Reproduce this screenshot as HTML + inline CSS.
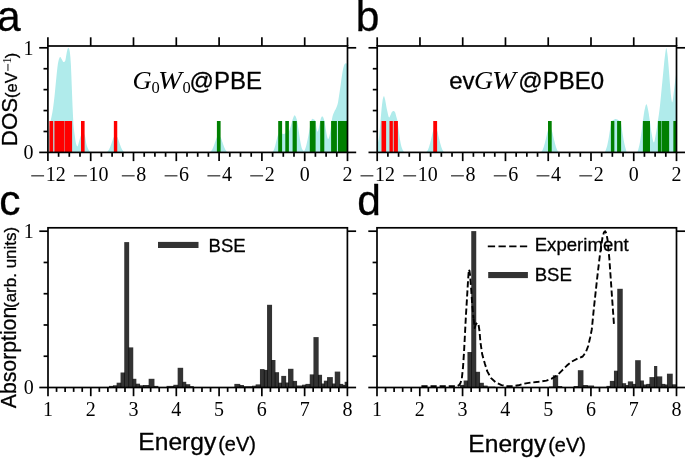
<!DOCTYPE html>
<html lang="en">
<head>
<meta charset="utf-8">
<title>DOS and absorption spectra</title>
<style>
html,body{margin:0;padding:0;background:#fff;}
body{width:685px;height:458px;overflow:hidden;font-family:"Liberation Sans",sans-serif;}
svg{display:block;will-change:transform;opacity:0.999;}
.sn{stroke:#000;stroke-width:0.3px;stroke-linejoin:round;}
</style>
</head>
<body>
<svg width="685" height="458" viewBox="0 0 685 458">
<rect width="685" height="458" fill="#fff"/>
<clipPath id="clip47"><rect x="47.9" y="46" width="299.6" height="106.4"/></clipPath>
<g clip-path="url(#clip47)">
<polygon points="47.9,152.4 47.9,137 48.4,133.72 48.9,130.58 49.4,127.58 49.9,124.72 50.4,122.02 50.9,119.58 51.4,117.18 51.9,114.77 52.4,112.16 52.9,109.12 53.4,105.56 53.9,101.57 54.4,97.28 54.9,92.55 55.4,87.23 55.9,81.88 56.4,76.97 56.9,72.01 57.4,67.38 57.9,63.75 58.4,61.29 58.9,59.35 59.4,58 59.9,57.04 60.4,56.89 60.9,57.65 61.4,58.64 61.9,59.51 62.4,60.51 62.9,61.41 63.4,61.94 63.9,61.97 64.4,61.83 64.9,61.56 65.4,60.37 65.9,57.46 66.4,54.5 66.9,51.8 67.4,49.44 67.9,48.36 68.4,47.82 68.9,48.26 69.4,49.74 69.9,52.41 70.4,57.29 70.9,64.75 71.4,76.46 71.9,89.81 72.4,102.77 72.9,114 73.4,123.72 73.9,128.99 74.4,132.91 74.9,136.55 75.4,140.28 75.9,143.25 76.4,144.86 76.9,146.02 77.4,146.5 77.9,145.77 78.4,144.04 78.9,141.96 79.4,140.18 79.9,138.49 80.4,136.83 80.9,135.5 81.4,134.55 81.9,133.69 82.4,133.05 82.9,132.8 83.4,133.02 83.9,133.62 84.4,134.48 84.9,135.56 85.4,137.95 85.9,141.19 86.4,144 86.9,145.76 87.4,147.25 87.9,148.51 88.4,149.53 88.9,150.35 89.4,151.06 89.9,151.57 90.4,151.84 90.9,151.99 91,152 91,152.4" fill="#b0ebeb"/>
<polygon points="106.25,152.4 106.72,152.16 107.18,151.82 107.64,151.39 108.11,150.87 108.57,150.25 109.04,149.46 109.5,148.48 109.97,147.38 110.44,146.26 110.9,145.02 111.36,143.69 111.83,142.35 112.29,141.02 112.76,139.56 113.22,138.24 113.69,137.36 114.16,136.77 114.62,136.28 115.08,135.93 115.55,135.8 116.01,135.93 116.48,136.28 116.94,136.77 117.41,137.36 117.88,138.24 118.34,139.56 118.8,141.02 119.27,142.35 119.73,143.69 120.2,145.02 120.66,146.26 121.13,147.38 121.59,148.48 122.06,149.46 122.52,150.25 122.99,150.87 123.45,151.39 123.92,151.82 124.38,152.16 124.85,152.4" fill="#b0ebeb"/>
<polygon points="209.45,152.4 209.91,152.16 210.38,151.82 210.84,151.39 211.31,150.87 211.78,150.25 212.24,149.46 212.7,148.48 213.17,147.38 213.63,146.26 214.1,145.02 214.56,143.69 215.03,142.35 215.5,141.02 215.96,139.56 216.43,138.24 216.89,137.36 217.35,136.77 217.82,136.28 218.28,135.93 218.75,135.8 219.22,135.93 219.68,136.28 220.14,136.77 220.61,137.36 221.07,138.24 221.54,139.56 222,141.02 222.47,142.35 222.94,143.69 223.4,145.02 223.87,146.26 224.33,147.38 224.79,148.48 225.26,149.46 225.72,150.25 226.19,150.87 226.66,151.39 227.12,151.82 227.58,152.16 228.05,152.4" fill="#b0ebeb"/>
<polygon points="272.5,152.4 272.5,152 273,151.36 273.5,150.5 274,149.39 274.5,148.02 275,146.43 275.5,144.46 276,142.31 276.5,140.3 277,138.36 277.5,136.46 278,134.93 278.5,133.95 279,133.09 279.5,132.41 280,132.04 280.5,132.08 281,132.49 281.5,133.03 282,133.49 282.5,133.72 283,133.89 283.5,133.99 284,133.97 284.5,133.83 285,133.6 285.5,133.26 286,132.62 286.5,131.93 287,131.5 287.5,131.35 288,131.27 288.5,131.17 289,131 289.5,130.19 290,128.65 290.5,127 291,125.32 291.5,123.43 292,121.54 292.5,119.86 293,118.48 293.5,117.07 294,115.91 294.5,115.32 295,115.49 295.5,116.2 296,117.31 296.5,118.69 297,120.24 297.5,122.72 298,126.02 298.5,129.46 299,132.78 299.5,136.33 300,139.67 300.5,142.47 301,145.11 301.5,147.37 302,148.8 302.5,149.63 303,150.32 303.5,150.8 304,151 304.5,150.61 305,149.5 305.5,148.07 306,146.55 306.5,144.59 307,142.35 307.5,140.04 308,137.59 308.5,134.98 309,132.28 309.5,129.57 310,126.78 310.5,123.78 311,121.5 311.5,119.95 312,118.91 312.5,118.82 313,118.95 313.5,119.16 314,119.4 314.5,119.75 315,120.34 315.5,121.81 316,125.05 316.5,128.04 317,130.51 317.5,131.76 318,131.18 318.5,129.24 319,127 319.5,124.55 320,121.9 320.5,119.75 321,117.96 321.5,116.98 322,116.37 322.5,116.42 323,117.02 323.5,117.9 324,119.44 324.5,121.43 325,124.12 325.5,127.2 326,130.4 326.5,133.6 327,135.95 327.5,138.03 328,139.16 328.5,138.81 329,137.5 329.5,135.8 330,133.46 330.5,130.25 331,126.7 331.5,122.5 332,119.12 332.5,116.48 333,114.76 333.5,113.51 334,112.44 334.5,111.36 335,110.37 335.5,109.42 336,108.43 336.5,107.3 337,106.06 337.5,104.6 338,102.54 338.5,99.33 339,96.01 339.5,92.72 340,89.34 340.5,85.9 341,82.25 341.5,78.59 342,75.27 342.5,72.11 343,69.26 343.5,67.14 344,65.49 344.5,64.28 345,63.69 345.5,63.34 346,63.32 346.5,63.5 347,63.87 347.5,64.5 347.5,152.4" fill="#b0ebeb"/>
<rect x="49.4" y="121" width="3.8" height="31.4" fill="#ff0000"/>
<rect x="54.4" y="121" width="9.75" height="31.4" fill="#ff0000"/>
<rect x="64.45" y="121" width="7.65" height="31.4" fill="#ff0000"/>
<rect x="81" y="121" width="3.6" height="31.4" fill="#ff0000"/>
<rect x="113.85" y="121" width="3.4" height="31.4" fill="#ff0000"/>
<rect x="216.9" y="121" width="3.7" height="31.4" fill="#008000"/>
<rect x="278.2" y="121" width="3.9" height="31.4" fill="#008000"/>
<rect x="285.3" y="121" width="3.6" height="31.4" fill="#008000"/>
<rect x="292.6" y="121" width="4.2" height="31.4" fill="#008000"/>
<rect x="309.8" y="121" width="5.8" height="31.4" fill="#008000"/>
<rect x="320.2" y="121" width="4.1" height="31.4" fill="#008000"/>
<rect x="331.1" y="121" width="5.8" height="31.4" fill="#008000"/>
<rect x="338" y="121" width="9.5" height="31.4" fill="#008000"/>
</g>
<rect x="47.9" y="46" width="299.6" height="106.4" fill="none" stroke="#000" stroke-width="1.7"/>
<line x1="47.9" y1="152.4" x2="47.9" y2="161.1" stroke="#000" stroke-width="1.7" />
<line x1="47.9" y1="46" x2="47.9" y2="37.3" stroke="#000" stroke-width="1.7" />
<rect x="31.22" y="175.35" width="12.85" height="1.0" fill="#000"/>
<text x="45.68" y="180.7" font-family='"Liberation Serif", serif' font-size="20" fill="#000">12</text>
<line x1="58.6" y1="152.4" x2="58.6" y2="156.8" stroke="#000" stroke-width="1.7" />
<line x1="69.3" y1="152.4" x2="69.3" y2="156.8" stroke="#000" stroke-width="1.7" />
<line x1="80" y1="152.4" x2="80" y2="156.8" stroke="#000" stroke-width="1.7" />
<line x1="90.7" y1="152.4" x2="90.7" y2="161.1" stroke="#000" stroke-width="1.7" />
<line x1="90.7" y1="46" x2="90.7" y2="37.3" stroke="#000" stroke-width="1.7" />
<rect x="74.02" y="175.35" width="12.85" height="1.0" fill="#000"/>
<text x="88.48" y="180.7" font-family='"Liberation Serif", serif' font-size="20" fill="#000">10</text>
<line x1="101.4" y1="152.4" x2="101.4" y2="156.8" stroke="#000" stroke-width="1.7" />
<line x1="112.1" y1="152.4" x2="112.1" y2="156.8" stroke="#000" stroke-width="1.7" />
<line x1="122.8" y1="152.4" x2="122.8" y2="156.8" stroke="#000" stroke-width="1.7" />
<line x1="133.5" y1="152.4" x2="133.5" y2="161.1" stroke="#000" stroke-width="1.7" />
<line x1="133.5" y1="46" x2="133.5" y2="37.3" stroke="#000" stroke-width="1.7" />
<rect x="121.82" y="175.35" width="12.85" height="1.0" fill="#000"/>
<text x="136.28" y="180.7" font-family='"Liberation Serif", serif' font-size="20" fill="#000">8</text>
<line x1="144.2" y1="152.4" x2="144.2" y2="156.8" stroke="#000" stroke-width="1.7" />
<line x1="154.9" y1="152.4" x2="154.9" y2="156.8" stroke="#000" stroke-width="1.7" />
<line x1="165.6" y1="152.4" x2="165.6" y2="156.8" stroke="#000" stroke-width="1.7" />
<line x1="176.3" y1="152.4" x2="176.3" y2="161.1" stroke="#000" stroke-width="1.7" />
<line x1="176.3" y1="46" x2="176.3" y2="37.3" stroke="#000" stroke-width="1.7" />
<rect x="164.62" y="175.35" width="12.85" height="1.0" fill="#000"/>
<text x="179.08" y="180.7" font-family='"Liberation Serif", serif' font-size="20" fill="#000">6</text>
<line x1="187" y1="152.4" x2="187" y2="156.8" stroke="#000" stroke-width="1.7" />
<line x1="197.7" y1="152.4" x2="197.7" y2="156.8" stroke="#000" stroke-width="1.7" />
<line x1="208.4" y1="152.4" x2="208.4" y2="156.8" stroke="#000" stroke-width="1.7" />
<line x1="219.1" y1="152.4" x2="219.1" y2="161.1" stroke="#000" stroke-width="1.7" />
<line x1="219.1" y1="46" x2="219.1" y2="37.3" stroke="#000" stroke-width="1.7" />
<rect x="207.42" y="175.35" width="12.85" height="1.0" fill="#000"/>
<text x="221.88" y="180.7" font-family='"Liberation Serif", serif' font-size="20" fill="#000">4</text>
<line x1="229.8" y1="152.4" x2="229.8" y2="156.8" stroke="#000" stroke-width="1.7" />
<line x1="240.5" y1="152.4" x2="240.5" y2="156.8" stroke="#000" stroke-width="1.7" />
<line x1="251.2" y1="152.4" x2="251.2" y2="156.8" stroke="#000" stroke-width="1.7" />
<line x1="261.9" y1="152.4" x2="261.9" y2="161.1" stroke="#000" stroke-width="1.7" />
<line x1="261.9" y1="46" x2="261.9" y2="37.3" stroke="#000" stroke-width="1.7" />
<rect x="250.22" y="175.35" width="12.85" height="1.0" fill="#000"/>
<text x="264.68" y="180.7" font-family='"Liberation Serif", serif' font-size="20" fill="#000">2</text>
<line x1="272.6" y1="152.4" x2="272.6" y2="156.8" stroke="#000" stroke-width="1.7" />
<line x1="283.3" y1="152.4" x2="283.3" y2="156.8" stroke="#000" stroke-width="1.7" />
<line x1="294" y1="152.4" x2="294" y2="156.8" stroke="#000" stroke-width="1.7" />
<line x1="304.7" y1="152.4" x2="304.7" y2="161.1" stroke="#000" stroke-width="1.7" />
<line x1="304.7" y1="46" x2="304.7" y2="37.3" stroke="#000" stroke-width="1.7" />
<text x="299.7" y="180.7" font-family='"Liberation Serif", serif' font-size="20" fill="#000">0</text>
<line x1="315.4" y1="152.4" x2="315.4" y2="156.8" stroke="#000" stroke-width="1.7" />
<line x1="326.1" y1="152.4" x2="326.1" y2="156.8" stroke="#000" stroke-width="1.7" />
<line x1="336.8" y1="152.4" x2="336.8" y2="156.8" stroke="#000" stroke-width="1.7" />
<line x1="347.5" y1="152.4" x2="347.5" y2="161.1" stroke="#000" stroke-width="1.7" />
<line x1="347.5" y1="46" x2="347.5" y2="37.3" stroke="#000" stroke-width="1.7" />
<text x="342.5" y="180.7" font-family='"Liberation Serif", serif' font-size="20" fill="#000">2</text>
<line x1="47.9" y1="152.4" x2="39.2" y2="152.4" stroke="#000" stroke-width="1.7" />
<line x1="347.5" y1="152.4" x2="356.2" y2="152.4" stroke="#000" stroke-width="1.7" />
<text x="33.6" y="159.1" text-anchor="end" font-family='"Liberation Serif", serif' font-size="20" fill="#000">0</text>
<line x1="47.9" y1="131.48" x2="43.5" y2="131.48" stroke="#000" stroke-width="1.7" />
<line x1="47.9" y1="110.56" x2="43.5" y2="110.56" stroke="#000" stroke-width="1.7" />
<line x1="47.9" y1="89.64" x2="43.5" y2="89.64" stroke="#000" stroke-width="1.7" />
<line x1="47.9" y1="68.72" x2="43.5" y2="68.72" stroke="#000" stroke-width="1.7" />
<line x1="47.9" y1="47.8" x2="39.2" y2="47.8" stroke="#000" stroke-width="1.7" />
<line x1="347.5" y1="47.8" x2="356.2" y2="47.8" stroke="#000" stroke-width="1.7" />
<text x="33.6" y="54.5" text-anchor="end" font-family='"Liberation Serif", serif' font-size="20" fill="#000">1</text>
<clipPath id="clip377"><rect x="377.2" y="46" width="299.3" height="106.4"/></clipPath>
<g clip-path="url(#clip377)">
<polygon points="377.2,152.4 377.2,144 377.7,143.33 378.2,141.58 378.7,139.13 379.2,136.11 379.7,130.83 380.2,124.46 380.7,118.67 381.2,112.93 381.7,107.62 382.2,103.23 382.7,99.56 383.2,97.48 383.7,96.15 384.2,96.34 384.7,97.88 385.2,99.92 385.7,102.86 386.2,105.8 386.7,108.38 387.2,110.84 387.7,113 388.2,115.15 388.7,117.01 389.2,117.58 389.7,116.94 390.2,115.84 390.7,114.78 391.2,113.52 391.7,112.36 392.2,111.69 392.7,111.21 393.2,110.93 393.7,110.95 394.2,111.23 394.7,111.68 395.2,112.48 395.7,114.22 396.2,116.23 396.7,117.95 397.2,119.76 397.7,122.42 398.2,126.41 398.7,130.3 399.2,134.09 399.7,137.64 400.2,140.68 400.7,143.46 401.2,145.73 401.7,147.42 402.2,148.83 402.7,149.92 403.2,150.76 403.7,151.45 404.2,151.9 404.2,152.4" fill="#b0ebeb"/>
<polygon points="425.87,152.4 426.34,152.04 426.8,151.55 427.26,150.92 427.73,150.16 428.19,149.25 428.66,148.09 429.12,146.66 429.59,145.06 430.06,143.41 430.52,141.6 430.99,139.65 431.45,137.69 431.92,135.74 432.38,133.61 432.85,131.67 433.31,130.38 433.78,129.52 434.24,128.8 434.71,128.29 435.17,128.1 435.63,128.29 436.1,128.8 436.56,129.52 437.03,130.38 437.5,131.67 437.96,133.61 438.43,135.74 438.89,137.69 439.36,139.65 439.82,141.6 440.29,143.41 440.75,145.06 441.22,146.66 441.68,148.09 442.14,149.25 442.61,150.16 443.07,150.92 443.54,151.55 444,152.04 444.47,152.4" fill="#b0ebeb"/>
<polygon points="540.55,152.4 541.01,152.04 541.48,151.55 541.95,150.92 542.41,150.16 542.88,149.25 543.34,148.09 543.81,146.66 544.27,145.06 544.74,143.41 545.2,141.6 545.66,139.65 546.13,137.69 546.6,135.74 547.06,133.61 547.52,131.67 547.99,130.38 548.46,129.52 548.92,128.8 549.38,128.29 549.85,128.1 550.32,128.29 550.78,128.8 551.25,129.52 551.71,130.38 552.18,131.67 552.64,133.61 553.11,135.74 553.57,137.69 554.03,139.65 554.5,141.6 554.97,143.41 555.43,145.06 555.89,146.66 556.36,148.09 556.83,149.25 557.29,150.16 557.75,150.92 558.22,151.55 558.69,152.04 559.15,152.4" fill="#b0ebeb"/>
<polygon points="604.8,152.4 604.8,152 605.3,151.15 605.8,150.01 606.3,148.62 606.8,147.07 607.3,145.15 607.8,142.85 608.3,140.32 608.8,137.53 609.3,134.35 609.8,131.1 610.3,127.57 610.8,124.43 611.3,122.59 611.8,121.31 612.3,120.68 612.8,120.29 613.3,120 613.8,119.71 614.3,119.44 614.8,119.22 615.3,119.11 615.8,119.12 616.3,119.22 616.8,119.37 617.3,119.58 617.8,119.81 618.3,120.05 618.8,120.36 619.3,120.77 619.8,121.3 620.3,122.04 620.8,123.13 621.3,124.86 621.8,128.23 622.3,131.74 622.8,135 623.3,138.12 623.8,140.82 624.3,143.2 624.8,145.38 625.3,147.4 625.8,149.29 626.3,151.03 626.6,152 626.6,152.4" fill="#b0ebeb"/>
<polygon points="637.3,152.4 637.3,152 637.8,150.9 638.3,149.41 638.8,147.61 639.3,145.59 639.8,143.09 640.3,140.06 640.8,136.73 641.3,133.31 641.8,129.52 642.3,125.49 642.8,121.62 643.3,117.99 643.8,114.42 644.3,111.37 644.8,109.06 645.3,106.87 645.8,105.1 646.3,104.16 646.8,104.5 647.3,106.13 647.8,108.46 648.3,110.88 648.8,113.8 649.3,117.24 649.8,120.82 650.3,124.32 650.8,128.08 651.3,131.65 651.8,134.51 652.3,137.18 652.8,139.69 653.3,141.63 653.8,142.57 654.3,141.94 654.8,139.76 655.3,136.93 655.8,134.26 656.3,131.39 656.8,128.24 657.3,124.93 657.8,121.57 658.3,118.25 658.8,114.88 659.3,111.27 659.8,107.2 660.3,102.48 660.8,97.38 661.3,92.21 661.8,87.12 662.3,81.92 662.8,76.74 663.3,71.66 663.8,66.43 664.3,61.36 664.8,56.96 665.3,53.04 665.8,49.41 666.3,47.8 666.8,49.42 667.3,52.98 667.8,57.11 668.3,62.73 668.8,68.97 669.3,75.43 669.8,82.28 670.3,88.32 670.8,93.9 671.3,98.2 671.8,101.41 672.3,102.5 672.8,99.85 673.3,96.05 673.8,92.02 674.3,87.64 674.8,83.65 675.3,79.83 675.8,76.2 676.3,72.8 676.8,69.61 676.9,69 676.9,152.4" fill="#b0ebeb"/>
<rect x="381.5" y="121" width="4.6" height="31.4" fill="#ff0000"/>
<rect x="389.5" y="121" width="3.35" height="31.4" fill="#ff0000"/>
<rect x="393.7" y="121" width="4.2" height="31.4" fill="#ff0000"/>
<rect x="433.25" y="121" width="3.85" height="31.4" fill="#ff0000"/>
<rect x="548" y="121" width="3.7" height="31.4" fill="#008000"/>
<rect x="610.9" y="121" width="3.45" height="31.4" fill="#008000"/>
<rect x="617.1" y="121" width="4" height="31.4" fill="#008000"/>
<rect x="642.9" y="121" width="7.1" height="31.4" fill="#008000"/>
<rect x="657.9" y="121" width="3.45" height="31.4" fill="#008000"/>
<rect x="661.75" y="121" width="7.4" height="31.4" fill="#008000"/>
<rect x="673.35" y="121" width="3.55" height="31.4" fill="#008000"/>
</g>
<rect x="377.2" y="46" width="299.3" height="106.4" fill="none" stroke="#000" stroke-width="1.7"/>
<line x1="377.2" y1="152.4" x2="377.2" y2="161.1" stroke="#000" stroke-width="1.7" />
<line x1="377.2" y1="46" x2="377.2" y2="37.3" stroke="#000" stroke-width="1.7" />
<rect x="360.52" y="175.35" width="12.85" height="1.0" fill="#000"/>
<text x="374.98" y="180.7" font-family='"Liberation Serif", serif' font-size="20" fill="#000">12</text>
<line x1="387.89" y1="152.4" x2="387.89" y2="156.8" stroke="#000" stroke-width="1.7" />
<line x1="398.58" y1="152.4" x2="398.58" y2="156.8" stroke="#000" stroke-width="1.7" />
<line x1="409.27" y1="152.4" x2="409.27" y2="156.8" stroke="#000" stroke-width="1.7" />
<line x1="419.96" y1="152.4" x2="419.96" y2="161.1" stroke="#000" stroke-width="1.7" />
<line x1="419.96" y1="46" x2="419.96" y2="37.3" stroke="#000" stroke-width="1.7" />
<rect x="403.28" y="175.35" width="12.85" height="1.0" fill="#000"/>
<text x="417.74" y="180.7" font-family='"Liberation Serif", serif' font-size="20" fill="#000">10</text>
<line x1="430.65" y1="152.4" x2="430.65" y2="156.8" stroke="#000" stroke-width="1.7" />
<line x1="441.34" y1="152.4" x2="441.34" y2="156.8" stroke="#000" stroke-width="1.7" />
<line x1="452.02" y1="152.4" x2="452.02" y2="156.8" stroke="#000" stroke-width="1.7" />
<line x1="462.71" y1="152.4" x2="462.71" y2="161.1" stroke="#000" stroke-width="1.7" />
<line x1="462.71" y1="46" x2="462.71" y2="37.3" stroke="#000" stroke-width="1.7" />
<rect x="451.03" y="175.35" width="12.85" height="1.0" fill="#000"/>
<text x="465.49" y="180.7" font-family='"Liberation Serif", serif' font-size="20" fill="#000">8</text>
<line x1="473.4" y1="152.4" x2="473.4" y2="156.8" stroke="#000" stroke-width="1.7" />
<line x1="484.09" y1="152.4" x2="484.09" y2="156.8" stroke="#000" stroke-width="1.7" />
<line x1="494.78" y1="152.4" x2="494.78" y2="156.8" stroke="#000" stroke-width="1.7" />
<line x1="505.47" y1="152.4" x2="505.47" y2="161.1" stroke="#000" stroke-width="1.7" />
<line x1="505.47" y1="46" x2="505.47" y2="37.3" stroke="#000" stroke-width="1.7" />
<rect x="493.79" y="175.35" width="12.85" height="1.0" fill="#000"/>
<text x="508.25" y="180.7" font-family='"Liberation Serif", serif' font-size="20" fill="#000">6</text>
<line x1="516.16" y1="152.4" x2="516.16" y2="156.8" stroke="#000" stroke-width="1.7" />
<line x1="526.85" y1="152.4" x2="526.85" y2="156.8" stroke="#000" stroke-width="1.7" />
<line x1="537.54" y1="152.4" x2="537.54" y2="156.8" stroke="#000" stroke-width="1.7" />
<line x1="548.23" y1="152.4" x2="548.23" y2="161.1" stroke="#000" stroke-width="1.7" />
<line x1="548.23" y1="46" x2="548.23" y2="37.3" stroke="#000" stroke-width="1.7" />
<rect x="536.55" y="175.35" width="12.85" height="1.0" fill="#000"/>
<text x="551.01" y="180.7" font-family='"Liberation Serif", serif' font-size="20" fill="#000">4</text>
<line x1="558.92" y1="152.4" x2="558.92" y2="156.8" stroke="#000" stroke-width="1.7" />
<line x1="569.61" y1="152.4" x2="569.61" y2="156.8" stroke="#000" stroke-width="1.7" />
<line x1="580.3" y1="152.4" x2="580.3" y2="156.8" stroke="#000" stroke-width="1.7" />
<line x1="590.99" y1="152.4" x2="590.99" y2="161.1" stroke="#000" stroke-width="1.7" />
<line x1="590.99" y1="46" x2="590.99" y2="37.3" stroke="#000" stroke-width="1.7" />
<rect x="579.31" y="175.35" width="12.85" height="1.0" fill="#000"/>
<text x="593.77" y="180.7" font-family='"Liberation Serif", serif' font-size="20" fill="#000">2</text>
<line x1="601.67" y1="152.4" x2="601.67" y2="156.8" stroke="#000" stroke-width="1.7" />
<line x1="612.36" y1="152.4" x2="612.36" y2="156.8" stroke="#000" stroke-width="1.7" />
<line x1="623.05" y1="152.4" x2="623.05" y2="156.8" stroke="#000" stroke-width="1.7" />
<line x1="633.74" y1="152.4" x2="633.74" y2="161.1" stroke="#000" stroke-width="1.7" />
<line x1="633.74" y1="46" x2="633.74" y2="37.3" stroke="#000" stroke-width="1.7" />
<text x="628.74" y="180.7" font-family='"Liberation Serif", serif' font-size="20" fill="#000">0</text>
<line x1="644.43" y1="152.4" x2="644.43" y2="156.8" stroke="#000" stroke-width="1.7" />
<line x1="655.12" y1="152.4" x2="655.12" y2="156.8" stroke="#000" stroke-width="1.7" />
<line x1="665.81" y1="152.4" x2="665.81" y2="156.8" stroke="#000" stroke-width="1.7" />
<line x1="676.5" y1="152.4" x2="676.5" y2="161.1" stroke="#000" stroke-width="1.7" />
<line x1="676.5" y1="46" x2="676.5" y2="37.3" stroke="#000" stroke-width="1.7" />
<text x="671.5" y="180.7" font-family='"Liberation Serif", serif' font-size="20" fill="#000">2</text>
<line x1="377.2" y1="152.4" x2="368.5" y2="152.4" stroke="#000" stroke-width="1.7" />
<line x1="676.5" y1="152.4" x2="685.2" y2="152.4" stroke="#000" stroke-width="1.7" />
<line x1="377.2" y1="131.48" x2="372.8" y2="131.48" stroke="#000" stroke-width="1.7" />
<line x1="377.2" y1="110.56" x2="372.8" y2="110.56" stroke="#000" stroke-width="1.7" />
<line x1="377.2" y1="89.64" x2="372.8" y2="89.64" stroke="#000" stroke-width="1.7" />
<line x1="377.2" y1="68.72" x2="372.8" y2="68.72" stroke="#000" stroke-width="1.7" />
<line x1="377.2" y1="47.8" x2="368.5" y2="47.8" stroke="#000" stroke-width="1.7" />
<line x1="676.5" y1="47.8" x2="685.2" y2="47.8" stroke="#000" stroke-width="1.7" />
<clipPath id="clip48_227"><rect x="48" y="227.8" width="299.4" height="159.7"/></clipPath>
<g clip-path="url(#clip48_227)">
<rect x="108.95" y="385.9" width="4.7" height="1.6" fill="#000" fill-opacity="0.8"/>
<rect x="112.95" y="385.3" width="4.4" height="2.2" fill="#000" fill-opacity="0.8"/>
<rect x="116.65" y="382.7" width="4.6" height="4.8" fill="#000" fill-opacity="0.8"/>
<rect x="120.55" y="372.5" width="4.4" height="15" fill="#000" fill-opacity="0.8"/>
<rect x="124.25" y="242.1" width="4.9" height="145.4" fill="#000" fill-opacity="0.8"/>
<rect x="128.45" y="347.4" width="4.8" height="40.1" fill="#000" fill-opacity="0.8"/>
<rect x="132.55" y="378.8" width="3.8" height="8.7" fill="#000" fill-opacity="0.8"/>
<rect x="135.65" y="383.7" width="4.4" height="3.8" fill="#000" fill-opacity="0.8"/>
<rect x="139.35" y="385.3" width="4.3" height="2.2" fill="#000" fill-opacity="0.8"/>
<rect x="142.95" y="385" width="6.4" height="2.5" fill="#000" fill-opacity="0.8"/>
<rect x="148.65" y="378.8" width="5.8" height="8.7" fill="#000" fill-opacity="0.8"/>
<rect x="153.75" y="385.9" width="4.6" height="1.6" fill="#000" fill-opacity="0.8"/>
<rect x="166.55" y="385.9" width="7.5" height="1.6" fill="#000" fill-opacity="0.8"/>
<rect x="173.35" y="384.8" width="5" height="2.7" fill="#000" fill-opacity="0.8"/>
<rect x="177.65" y="367.8" width="5.5" height="19.7" fill="#000" fill-opacity="0.8"/>
<rect x="182.45" y="381.8" width="3.8" height="5.7" fill="#000" fill-opacity="0.8"/>
<rect x="185.55" y="384.2" width="4.7" height="3.3" fill="#000" fill-opacity="0.8"/>
<rect x="189.55" y="386.1" width="4.3" height="1.4" fill="#000" fill-opacity="0.8"/>
<rect x="234.35" y="383.9" width="5.9" height="3.6" fill="#000" fill-opacity="0.8"/>
<rect x="239.55" y="385" width="4.4" height="2.5" fill="#000" fill-opacity="0.8"/>
<rect x="243.25" y="386.2" width="9.5" height="1.3" fill="#000" fill-opacity="0.8"/>
<rect x="252.05" y="385.7" width="4.3" height="1.8" fill="#000" fill-opacity="0.8"/>
<rect x="255.65" y="384.4" width="5" height="3.1" fill="#000" fill-opacity="0.8"/>
<rect x="259.95" y="369.1" width="4.6" height="18.4" fill="#000" fill-opacity="0.8"/>
<rect x="263.85" y="369.9" width="3.9" height="17.6" fill="#000" fill-opacity="0.8"/>
<rect x="267.05" y="304.8" width="5" height="82.7" fill="#000" fill-opacity="0.8"/>
<rect x="271.35" y="360" width="4.1" height="27.5" fill="#000" fill-opacity="0.8"/>
<rect x="274.75" y="372.2" width="4.3" height="15.3" fill="#000" fill-opacity="0.8"/>
<rect x="278.35" y="382.7" width="3.6" height="4.8" fill="#000" fill-opacity="0.8"/>
<rect x="281.25" y="375.9" width="4.9" height="11.6" fill="#000" fill-opacity="0.8"/>
<rect x="285.45" y="382.5" width="3.3" height="5" fill="#000" fill-opacity="0.8"/>
<rect x="288.05" y="368.8" width="5.4" height="18.7" fill="#000" fill-opacity="0.8"/>
<rect x="292.75" y="380.9" width="4.3" height="6.6" fill="#000" fill-opacity="0.8"/>
<rect x="296.35" y="385.5" width="6.4" height="2" fill="#000" fill-opacity="0.8"/>
<rect x="302.05" y="384.7" width="4.1" height="2.8" fill="#000" fill-opacity="0.8"/>
<rect x="305.45" y="383.9" width="5" height="3.6" fill="#000" fill-opacity="0.8"/>
<rect x="309.75" y="374.4" width="4.4" height="13.1" fill="#000" fill-opacity="0.8"/>
<rect x="313.45" y="337.1" width="5.2" height="50.4" fill="#000" fill-opacity="0.8"/>
<rect x="317.95" y="374.8" width="4.1" height="12.7" fill="#000" fill-opacity="0.8"/>
<rect x="321.35" y="383.5" width="3.2" height="4" fill="#000" fill-opacity="0.8"/>
<rect x="323.85" y="380.7" width="3.9" height="6.8" fill="#000" fill-opacity="0.8"/>
<rect x="327.05" y="377.1" width="5.8" height="10.4" fill="#000" fill-opacity="0.8"/>
<rect x="332.15" y="383.5" width="3.3" height="4" fill="#000" fill-opacity="0.8"/>
<rect x="334.75" y="371.6" width="5.5" height="15.9" fill="#000" fill-opacity="0.8"/>
<rect x="339.55" y="383.9" width="3.8" height="3.6" fill="#000" fill-opacity="0.8"/>
<rect x="342.65" y="385" width="2.7" height="2.5" fill="#000" fill-opacity="0.8"/>
<rect x="344.65" y="381.8" width="3.1" height="5.7" fill="#000" fill-opacity="0.8"/>
</g>
<rect x="48" y="227.8" width="299.4" height="159.7" fill="none" stroke="#000" stroke-width="1.7"/>
<line x1="48" y1="387.5" x2="48" y2="396.2" stroke="#000" stroke-width="1.7" />
<text x="43" y="416.3" font-family='"Liberation Serif", serif' font-size="20" fill="#000">1</text>
<line x1="56.55" y1="387.5" x2="56.55" y2="391.9" stroke="#000" stroke-width="1.7" />
<line x1="65.11" y1="387.5" x2="65.11" y2="391.9" stroke="#000" stroke-width="1.7" />
<line x1="73.66" y1="387.5" x2="73.66" y2="391.9" stroke="#000" stroke-width="1.7" />
<line x1="82.22" y1="387.5" x2="82.22" y2="391.9" stroke="#000" stroke-width="1.7" />
<line x1="90.77" y1="387.5" x2="90.77" y2="396.2" stroke="#000" stroke-width="1.7" />
<text x="85.77" y="416.3" font-family='"Liberation Serif", serif' font-size="20" fill="#000">2</text>
<line x1="99.33" y1="387.5" x2="99.33" y2="391.9" stroke="#000" stroke-width="1.7" />
<line x1="107.88" y1="387.5" x2="107.88" y2="391.9" stroke="#000" stroke-width="1.7" />
<line x1="116.43" y1="387.5" x2="116.43" y2="391.9" stroke="#000" stroke-width="1.7" />
<line x1="124.99" y1="387.5" x2="124.99" y2="391.9" stroke="#000" stroke-width="1.7" />
<line x1="133.54" y1="387.5" x2="133.54" y2="396.2" stroke="#000" stroke-width="1.7" />
<text x="128.54" y="416.3" font-family='"Liberation Serif", serif' font-size="20" fill="#000">3</text>
<line x1="142.1" y1="387.5" x2="142.1" y2="391.9" stroke="#000" stroke-width="1.7" />
<line x1="150.65" y1="387.5" x2="150.65" y2="391.9" stroke="#000" stroke-width="1.7" />
<line x1="159.21" y1="387.5" x2="159.21" y2="391.9" stroke="#000" stroke-width="1.7" />
<line x1="167.76" y1="387.5" x2="167.76" y2="391.9" stroke="#000" stroke-width="1.7" />
<line x1="176.31" y1="387.5" x2="176.31" y2="396.2" stroke="#000" stroke-width="1.7" />
<text x="171.31" y="416.3" font-family='"Liberation Serif", serif' font-size="20" fill="#000">4</text>
<line x1="184.87" y1="387.5" x2="184.87" y2="391.9" stroke="#000" stroke-width="1.7" />
<line x1="193.42" y1="387.5" x2="193.42" y2="391.9" stroke="#000" stroke-width="1.7" />
<line x1="201.98" y1="387.5" x2="201.98" y2="391.9" stroke="#000" stroke-width="1.7" />
<line x1="210.53" y1="387.5" x2="210.53" y2="391.9" stroke="#000" stroke-width="1.7" />
<line x1="219.09" y1="387.5" x2="219.09" y2="396.2" stroke="#000" stroke-width="1.7" />
<text x="214.09" y="416.3" font-family='"Liberation Serif", serif' font-size="20" fill="#000">5</text>
<line x1="227.64" y1="387.5" x2="227.64" y2="391.9" stroke="#000" stroke-width="1.7" />
<line x1="236.19" y1="387.5" x2="236.19" y2="391.9" stroke="#000" stroke-width="1.7" />
<line x1="244.75" y1="387.5" x2="244.75" y2="391.9" stroke="#000" stroke-width="1.7" />
<line x1="253.3" y1="387.5" x2="253.3" y2="391.9" stroke="#000" stroke-width="1.7" />
<line x1="261.86" y1="387.5" x2="261.86" y2="396.2" stroke="#000" stroke-width="1.7" />
<text x="256.86" y="416.3" font-family='"Liberation Serif", serif' font-size="20" fill="#000">6</text>
<line x1="270.41" y1="387.5" x2="270.41" y2="391.9" stroke="#000" stroke-width="1.7" />
<line x1="278.97" y1="387.5" x2="278.97" y2="391.9" stroke="#000" stroke-width="1.7" />
<line x1="287.52" y1="387.5" x2="287.52" y2="391.9" stroke="#000" stroke-width="1.7" />
<line x1="296.07" y1="387.5" x2="296.07" y2="391.9" stroke="#000" stroke-width="1.7" />
<line x1="304.63" y1="387.5" x2="304.63" y2="396.2" stroke="#000" stroke-width="1.7" />
<text x="299.63" y="416.3" font-family='"Liberation Serif", serif' font-size="20" fill="#000">7</text>
<line x1="313.18" y1="387.5" x2="313.18" y2="391.9" stroke="#000" stroke-width="1.7" />
<line x1="321.74" y1="387.5" x2="321.74" y2="391.9" stroke="#000" stroke-width="1.7" />
<line x1="330.29" y1="387.5" x2="330.29" y2="391.9" stroke="#000" stroke-width="1.7" />
<line x1="338.85" y1="387.5" x2="338.85" y2="391.9" stroke="#000" stroke-width="1.7" />
<line x1="347.4" y1="387.5" x2="347.4" y2="396.2" stroke="#000" stroke-width="1.7" />
<text x="342.4" y="416.3" font-family='"Liberation Serif", serif' font-size="20" fill="#000">8</text>
<line x1="48" y1="387.5" x2="39.3" y2="387.5" stroke="#000" stroke-width="1.7" />
<line x1="347.4" y1="387.5" x2="356.1" y2="387.5" stroke="#000" stroke-width="1.7" />
<text x="33.7" y="394.2" text-anchor="end" font-family='"Liberation Serif", serif' font-size="20" fill="#000">0</text>
<line x1="48" y1="356.24" x2="43.6" y2="356.24" stroke="#000" stroke-width="1.7" />
<line x1="48" y1="324.98" x2="43.6" y2="324.98" stroke="#000" stroke-width="1.7" />
<line x1="48" y1="293.72" x2="43.6" y2="293.72" stroke="#000" stroke-width="1.7" />
<line x1="48" y1="262.46" x2="43.6" y2="262.46" stroke="#000" stroke-width="1.7" />
<line x1="48" y1="231.2" x2="39.3" y2="231.2" stroke="#000" stroke-width="1.7" />
<line x1="347.4" y1="231.2" x2="356.1" y2="231.2" stroke="#000" stroke-width="1.7" />
<text x="33.7" y="237.9" text-anchor="end" font-family='"Liberation Serif", serif' font-size="20" fill="#000">1</text>
<clipPath id="clip377_227"><rect x="377" y="227.8" width="299.5" height="159.7"/></clipPath>
<g clip-path="url(#clip377_227)">
<rect x="459.85" y="384.9" width="4.5" height="2.6" fill="#000" fill-opacity="0.8"/>
<rect x="463.65" y="380.5" width="4.5" height="7" fill="#000" fill-opacity="0.8"/>
<rect x="467.45" y="352" width="4.5" height="35.5" fill="#000" fill-opacity="0.8"/>
<rect x="471.25" y="231.1" width="5" height="156.4" fill="#000" fill-opacity="0.8"/>
<rect x="475.55" y="371.8" width="4.5" height="15.7" fill="#000" fill-opacity="0.8"/>
<rect x="479.35" y="382.8" width="4.5" height="4.7" fill="#000" fill-opacity="0.8"/>
<rect x="483.15" y="385.6" width="4.5" height="1.9" fill="#000" fill-opacity="0.8"/>
<rect x="486.95" y="386.6" width="8.4" height="0.9" fill="#000" fill-opacity="0.8"/>
<rect x="494.65" y="387" width="55" height="0.5" fill="#000" fill-opacity="0.8"/>
<rect x="548.95" y="386.5" width="4.6" height="1" fill="#000" fill-opacity="0.8"/>
<rect x="552.85" y="375.3" width="5.3" height="12.2" fill="#000" fill-opacity="0.8"/>
<rect x="557.45" y="386" width="4.8" height="1.5" fill="#000" fill-opacity="0.8"/>
<rect x="561.55" y="387" width="12.8" height="0.5" fill="#000" fill-opacity="0.8"/>
<rect x="573.65" y="386" width="4.9" height="1.5" fill="#000" fill-opacity="0.8"/>
<rect x="577.85" y="370.2" width="5.6" height="17.3" fill="#000" fill-opacity="0.8"/>
<rect x="582.75" y="385" width="5" height="2.5" fill="#000" fill-opacity="0.8"/>
<rect x="587.05" y="385.5" width="7" height="2" fill="#000" fill-opacity="0.8"/>
<rect x="593.35" y="386.9" width="13.8" height="0.6" fill="#000" fill-opacity="0.8"/>
<rect x="606.45" y="385.9" width="4.1" height="1.6" fill="#000" fill-opacity="0.8"/>
<rect x="609.85" y="380.9" width="4.8" height="6.6" fill="#000" fill-opacity="0.8"/>
<rect x="613.95" y="370.7" width="4" height="16.8" fill="#000" fill-opacity="0.8"/>
<rect x="617.25" y="288.8" width="5.5" height="98.7" fill="#000" fill-opacity="0.8"/>
<rect x="622.05" y="383.2" width="4.1" height="4.3" fill="#000" fill-opacity="0.8"/>
<rect x="625.45" y="385" width="3.1" height="2.5" fill="#000" fill-opacity="0.8"/>
<rect x="627.85" y="381.4" width="5.3" height="6.1" fill="#000" fill-opacity="0.8"/>
<rect x="632.45" y="383.9" width="3.4" height="3.6" fill="#000" fill-opacity="0.8"/>
<rect x="635.15" y="360.2" width="5.6" height="27.3" fill="#000" fill-opacity="0.8"/>
<rect x="640.05" y="380.5" width="3.9" height="7" fill="#000" fill-opacity="0.8"/>
<rect x="643.25" y="384.5" width="3.8" height="3" fill="#000" fill-opacity="0.8"/>
<rect x="646.35" y="383.9" width="3.8" height="3.6" fill="#000" fill-opacity="0.8"/>
<rect x="649.45" y="377.1" width="5.3" height="10.4" fill="#000" fill-opacity="0.8"/>
<rect x="654.05" y="366" width="3.2" height="21.5" fill="#000" fill-opacity="0.8"/>
<rect x="656.55" y="376.4" width="5.7" height="11.1" fill="#000" fill-opacity="0.8"/>
<rect x="661.55" y="383.9" width="3.8" height="3.6" fill="#000" fill-opacity="0.8"/>
<rect x="664.65" y="384.5" width="3" height="3" fill="#000" fill-opacity="0.8"/>
<rect x="666.95" y="373.7" width="5.8" height="13.8" fill="#000" fill-opacity="0.8"/>
<rect x="672.05" y="384.3" width="4.7" height="3.2" fill="#000" fill-opacity="0.8"/>
</g>
<rect x="377" y="227.8" width="299.5" height="159.7" fill="none" stroke="#000" stroke-width="1.7"/>
<line x1="377" y1="387.5" x2="377" y2="396.2" stroke="#000" stroke-width="1.7" />
<text x="372" y="416.3" font-family='"Liberation Serif", serif' font-size="20" fill="#000">1</text>
<line x1="385.56" y1="387.5" x2="385.56" y2="391.9" stroke="#000" stroke-width="1.7" />
<line x1="394.11" y1="387.5" x2="394.11" y2="391.9" stroke="#000" stroke-width="1.7" />
<line x1="402.67" y1="387.5" x2="402.67" y2="391.9" stroke="#000" stroke-width="1.7" />
<line x1="411.23" y1="387.5" x2="411.23" y2="391.9" stroke="#000" stroke-width="1.7" />
<line x1="419.79" y1="387.5" x2="419.79" y2="396.2" stroke="#000" stroke-width="1.7" />
<text x="414.79" y="416.3" font-family='"Liberation Serif", serif' font-size="20" fill="#000">2</text>
<line x1="428.34" y1="387.5" x2="428.34" y2="391.9" stroke="#000" stroke-width="1.7" />
<line x1="436.9" y1="387.5" x2="436.9" y2="391.9" stroke="#000" stroke-width="1.7" />
<line x1="445.46" y1="387.5" x2="445.46" y2="391.9" stroke="#000" stroke-width="1.7" />
<line x1="454.01" y1="387.5" x2="454.01" y2="391.9" stroke="#000" stroke-width="1.7" />
<line x1="462.57" y1="387.5" x2="462.57" y2="396.2" stroke="#000" stroke-width="1.7" />
<text x="457.57" y="416.3" font-family='"Liberation Serif", serif' font-size="20" fill="#000">3</text>
<line x1="471.13" y1="387.5" x2="471.13" y2="391.9" stroke="#000" stroke-width="1.7" />
<line x1="479.69" y1="387.5" x2="479.69" y2="391.9" stroke="#000" stroke-width="1.7" />
<line x1="488.24" y1="387.5" x2="488.24" y2="391.9" stroke="#000" stroke-width="1.7" />
<line x1="496.8" y1="387.5" x2="496.8" y2="391.9" stroke="#000" stroke-width="1.7" />
<line x1="505.36" y1="387.5" x2="505.36" y2="396.2" stroke="#000" stroke-width="1.7" />
<text x="500.36" y="416.3" font-family='"Liberation Serif", serif' font-size="20" fill="#000">4</text>
<line x1="513.91" y1="387.5" x2="513.91" y2="391.9" stroke="#000" stroke-width="1.7" />
<line x1="522.47" y1="387.5" x2="522.47" y2="391.9" stroke="#000" stroke-width="1.7" />
<line x1="531.03" y1="387.5" x2="531.03" y2="391.9" stroke="#000" stroke-width="1.7" />
<line x1="539.59" y1="387.5" x2="539.59" y2="391.9" stroke="#000" stroke-width="1.7" />
<line x1="548.14" y1="387.5" x2="548.14" y2="396.2" stroke="#000" stroke-width="1.7" />
<text x="543.14" y="416.3" font-family='"Liberation Serif", serif' font-size="20" fill="#000">5</text>
<line x1="556.7" y1="387.5" x2="556.7" y2="391.9" stroke="#000" stroke-width="1.7" />
<line x1="565.26" y1="387.5" x2="565.26" y2="391.9" stroke="#000" stroke-width="1.7" />
<line x1="573.81" y1="387.5" x2="573.81" y2="391.9" stroke="#000" stroke-width="1.7" />
<line x1="582.37" y1="387.5" x2="582.37" y2="391.9" stroke="#000" stroke-width="1.7" />
<line x1="590.93" y1="387.5" x2="590.93" y2="396.2" stroke="#000" stroke-width="1.7" />
<text x="585.93" y="416.3" font-family='"Liberation Serif", serif' font-size="20" fill="#000">6</text>
<line x1="599.49" y1="387.5" x2="599.49" y2="391.9" stroke="#000" stroke-width="1.7" />
<line x1="608.04" y1="387.5" x2="608.04" y2="391.9" stroke="#000" stroke-width="1.7" />
<line x1="616.6" y1="387.5" x2="616.6" y2="391.9" stroke="#000" stroke-width="1.7" />
<line x1="625.16" y1="387.5" x2="625.16" y2="391.9" stroke="#000" stroke-width="1.7" />
<line x1="633.71" y1="387.5" x2="633.71" y2="396.2" stroke="#000" stroke-width="1.7" />
<text x="628.71" y="416.3" font-family='"Liberation Serif", serif' font-size="20" fill="#000">7</text>
<line x1="642.27" y1="387.5" x2="642.27" y2="391.9" stroke="#000" stroke-width="1.7" />
<line x1="650.83" y1="387.5" x2="650.83" y2="391.9" stroke="#000" stroke-width="1.7" />
<line x1="659.39" y1="387.5" x2="659.39" y2="391.9" stroke="#000" stroke-width="1.7" />
<line x1="667.94" y1="387.5" x2="667.94" y2="391.9" stroke="#000" stroke-width="1.7" />
<line x1="676.5" y1="387.5" x2="676.5" y2="396.2" stroke="#000" stroke-width="1.7" />
<text x="671.5" y="416.3" font-family='"Liberation Serif", serif' font-size="20" fill="#000">8</text>
<line x1="377" y1="387.5" x2="368.3" y2="387.5" stroke="#000" stroke-width="1.7" />
<line x1="676.5" y1="387.5" x2="685.2" y2="387.5" stroke="#000" stroke-width="1.7" />
<line x1="377" y1="356.24" x2="372.6" y2="356.24" stroke="#000" stroke-width="1.7" />
<line x1="377" y1="324.98" x2="372.6" y2="324.98" stroke="#000" stroke-width="1.7" />
<line x1="377" y1="293.72" x2="372.6" y2="293.72" stroke="#000" stroke-width="1.7" />
<line x1="377" y1="262.46" x2="372.6" y2="262.46" stroke="#000" stroke-width="1.7" />
<line x1="377" y1="231.2" x2="368.3" y2="231.2" stroke="#000" stroke-width="1.7" />
<line x1="676.5" y1="231.2" x2="685.2" y2="231.2" stroke="#000" stroke-width="1.7" />
<polyline points="421.4,386.2 452,386.2 456.7,386.3 459,385.2 460.2,383.7 461.7,379.5 463,367.6 464,352.4 464.9,335.4 465.9,316 467,298.2 467.9,282.9 468.5,274 469,269.5 469.5,271 470.1,275.3 471.3,290.6 472.1,303 472.8,311 473.5,318" fill="none" stroke="#000" stroke-width="1.9" stroke-dasharray="6.2 2.9" stroke-dashoffset="0" stroke-linejoin="round"/>
<polyline points="473.5,318 474.7,328 475.7,324.5 477.2,322.8 478.5,324.5 479.5,331 480.4,342 482.2,354.3 484.9,363.8 487.3,371.4 491.1,378.1 495.8,382.4 501.5,385.1 507.2,386.2 512.9,386.2 518.6,385.3 522.9,383.9 530.7,382.6 538.6,381.8 546.5,380.6 552,378.5 557.5,375.1 562.2,370.3 566.9,365.6 571.6,361.7 577.9,358.5 582.7,356.5 585.8,352.3 588.2,346 590.2,337.3 591.8,329.4 593.8,309 597.2,277.8 600.2,252.5 602.5,237.5 603.9,232.5 605.2,231.2 606.4,233.5 607.5,239.5 609.4,259.4 611,282.4 612.6,305.3 614,325" fill="none" stroke="#000" stroke-width="1.9" stroke-dasharray="6.2 2.9" stroke-dashoffset="8.66" stroke-linejoin="round"/>
<text class="sn" x="-2.9" y="30.8" font-family='"Liberation Sans", sans-serif' font-size="42.5" text-anchor="start" fill="#000" >a</text>
<text class="sn" x="355.7" y="30.8" font-family='"Liberation Sans", sans-serif' font-size="42.5" text-anchor="start" fill="#000" >b</text>
<text class="sn" x="-0.7" y="214.7" font-family='"Liberation Sans", sans-serif' font-size="42.5" text-anchor="start" fill="#000" >c</text>
<text class="sn" x="357.2" y="214.7" font-family='"Liberation Sans", sans-serif' font-size="42.5" text-anchor="start" fill="#000" >d</text>
<g transform="translate(16.5,146.2) rotate(-90)">
<text transform="scale(0.97,1)" class="sn" font-family='"Liberation Sans", sans-serif' font-size="23" fill="#000">DOS</text>
<text x="48.3" y="0" class="sn" font-family='"Liberation Sans", sans-serif' font-size="16.5" fill="#000">(eV</text>
<rect x="75.3" y="-9.1" width="7" height="1.1" fill="#2a2a2a"/>
<text x="82.6" y="-5.4" font-family='"Liberation Serif", serif' font-size="12.5" fill="#000">1</text>
<text x="88.0" y="0" class="sn" font-family='"Liberation Sans", sans-serif' font-size="16.5" fill="#000">)</text>
</g>
<g transform="translate(15.9,408.2) rotate(-90)">
<text transform="scale(0.939,1)" class="sn" font-family='"Liberation Sans", sans-serif' font-size="22.6" fill="#000">Absorption</text>
<text x="100.2" y="-0.4" class="sn" font-family='"Liberation Sans", sans-serif' font-size="17.0" fill="#000">(arb. units)</text>
</g>
<text x="138.3" y="450.3" class="sn" font-family='"Liberation Sans", sans-serif' font-size="24.6" fill="#000">Energy</text>
<text x="218.2" y="450.6" class="sn" font-family='"Liberation Sans", sans-serif' font-size="20" fill="#000">(eV)</text>
<text x="468.3" y="452" class="sn" font-family='"Liberation Sans", sans-serif' font-size="24.6" fill="#000">Energy</text>
<text x="548.2" y="452.3" class="sn" font-family='"Liberation Sans", sans-serif' font-size="20" fill="#000">(eV)</text>
<text transform="translate(132.4,88.9) scale(1.08,1)" font-family='"Liberation Serif", serif' font-size="24.5" font-style="italic" fill="#000">G</text>
<text x="151.4" y="92.8" font-family='"Liberation Serif", serif' font-size="16.5" fill="#000">0</text>
<text transform="translate(158.1,88.9) scale(1.17,1)" font-family='"Liberation Serif", serif' font-size="24.5" font-style="italic" fill="#000">W</text>
<text x="182.4" y="92.8" font-family='"Liberation Serif", serif' font-size="16.5" fill="#000">0</text>
<text class="sn" x="189.6" y="88.9" font-family='"Liberation Sans", sans-serif' font-size="24" fill="#000">@PBE</text>
<text class="sn" x="449.2" y="88.9" font-family='"Liberation Sans", sans-serif' font-size="24" fill="#000">ev</text>
<text transform="translate(473.9,88.9) scale(1.08,1)" font-family='"Liberation Serif", serif' font-size="24.5" font-style="italic" fill="#000">G</text>
<text transform="translate(491.9,88.9) scale(1.17,1)" font-family='"Liberation Serif", serif' font-size="24.5" font-style="italic" fill="#000">W</text>
<text class="sn" x="518.3" y="88.9" font-family='"Liberation Sans", sans-serif' font-size="24" fill="#000">@PBE0</text>
<rect x="158" y="241.9" width="40.5" height="6.1" fill="#333333"/>
<text class="sn" x="208.5" y="251.5" font-family='"Liberation Sans", sans-serif' font-size="18.6" text-anchor="start" fill="#000" >BSE</text>
<line x1="487.8" y1="246.4" x2="527.6" y2="246.4" stroke="#000" stroke-width="1.9" stroke-dasharray="7.3 3.4"/>
<text class="sn" x="534.7" y="251.4" font-family='"Liberation Sans", sans-serif' font-size="18.6" text-anchor="start" fill="#000" >Experiment</text>
<rect x="488.2" y="272" width="39.7" height="6.1" fill="#333333"/>
<text class="sn" x="534.7" y="280.8" font-family='"Liberation Sans", sans-serif' font-size="18.6" text-anchor="start" fill="#000" >BSE</text>
</svg>
</body>
</html>
